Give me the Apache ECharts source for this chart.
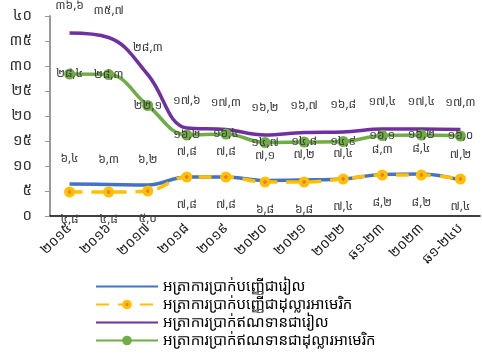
<!DOCTYPE html>
<html><head><meta charset="utf-8">
<script src="https://cdn.jsdelivr.net/npm/echarts@6/dist/echarts.min.js"></script>
<style>html,body{margin:0;padding:0;background:#fff}#c{width:482px;height:359px}</style>
</head><body><div id="c"></div>
<script>
const categories = ['២០១៥','២០១៦','២០១៧','២០១៨','២០១៩','២០២០','២០២១','២០២២','ឆ១-២៣','២០២៣','ឆ១-២៤ប'];
const seriesNames = ['អត្រាការប្រាក់បញ្ញើជារៀល','អត្រាការប្រាក់បញ្ញើជាដុល្លារអាមេរិក','អត្រាការប្រាក់ឥណទានជារៀល','អត្រាការប្រាក់ឥណទានជាដុល្លារអាមេរិក'];
const depositRiel = [6.4, 6.3, 6.2, 7.8, 7.8, 7.1, 7.2, 7.4, 8.3, 8.4, 7.2];
const depositUsd  = [4.8, 4.8, 5.0, 7.8, 7.8, 6.8, 6.8, 7.4, 8.2, 8.2, 7.4];
const loanRiel    = [36.6, 35.7, 28.3, 17.6, 17.3, 16.2, 16.7, 16.8, 17.4, 17.4, 17.3];
const loanUsd     = [28.4, 28.3, 22.1, 16.2, 16.4, 14.7, 14.8, 14.9, 16.1, 16.2, 16.0];
const yTicks = [0, 5, 10, 15, 20, 25, 30, 35, 40];

const KD = ['០','១','២','៣','៤','៥','៦','៧','៨','៩'];
function kh(s){ return String(s).replace(/[0-9]/g, d => KD[+d]).replace('.', ','); }
const FONT = '"Noto Sans Khmer","Khmer OS","Khmer OS System","Noto Sans","DejaVu Sans",sans-serif';
const lblStyle = {fontFamily: FONT, fontSize: 12, color: '#404040'};
function fmt(p){ return kh(p.value.toFixed(1)); }

const chart = echarts.init(document.getElementById('c'), null, {renderer:'canvas'});
chart.setOption({
  animation: false,
  grid: {left: 50, right: 2, top: 16, bottom: 143, containLabel: false},
  legend: {
    orient: 'vertical', left: 90, top: 274, itemWidth: 62, itemHeight: 12, itemGap: 3,
    textStyle: {fontFamily: FONT, fontSize: 15, color: '#000'},
    data: [
      {name: seriesNames[0], itemStyle: {opacity: 0}},
      {name: seriesNames[1]},
      {name: seriesNames[2], itemStyle: {opacity: 0}},
      {name: seriesNames[3]}
    ]
  },
  xAxis: {
    type: 'category', data: categories, boundaryGap: true,
    axisLine: {lineStyle: {color: '#000', width: 1.5}},
    axisTick: {show: false},
    axisLabel: {rotate: 45, fontFamily: FONT, fontSize: 14, color: '#222', margin: 10, interval: 0}
  },
  yAxis: {
    type: 'value', min: yTicks[0], max: yTicks[yTicks.length-1], interval: 5,
    splitLine: {show: false},
    axisLine: {show: true, lineStyle: {color: '#999', width: 2}},
    axisTick: {show: true, length: 5, lineStyle: {color: '#999'}},
    axisLabel: {fontFamily: FONT, fontSize: 15, color: '#333', margin: 18, formatter: v => kh(v)}
  },
  series: [
    {name: seriesNames[0], type: 'line', smooth: 0.4, data: depositRiel, showSymbol: true, symbol: 'circle', symbolSize: 2,
     lineStyle: {color: '#4472C4', width: 3.5}, itemStyle: {color: 'rgba(0,0,0,0)', borderWidth: 0},
     label: {show: true, position: 'top', distance: 18, formatter: fmt, ...lblStyle}, z: 2},
    {name: seriesNames[1], type: 'line', smooth: 0.4, data: depositUsd, symbol: 'circle', symbolSize: 11,
     lineStyle: {color: '#FFC000', width: 3.5, type: [13, 9]},
     itemStyle: {color: {type: 'radial', x: 0.5, y: 0.5, r: 0.5, colorStops: [
       {offset: 0, color: '#ED7D31'}, {offset: 0.28, color: '#ED7D31'}, {offset: 0.36, color: '#FFC000'}, {offset: 1, color: '#FFC000'}]}},
     label: {show: true, position: 'bottom', distance: 16, formatter: fmt, ...lblStyle}, z: 3},
    {name: seriesNames[2], type: 'line', smooth: 0.4, data: loanRiel, showSymbol: true, symbol: 'circle', symbolSize: 2,
     lineStyle: {color: '#7030A0', width: 3.5}, itemStyle: {color: 'rgba(0,0,0,0)', borderWidth: 0},
     label: {show: true, position: 'top', distance: 20, formatter: fmt, ...lblStyle}, z: 2},
    {name: seriesNames[3], type: 'line', smooth: 0.4, data: loanUsd, symbol: 'circle', symbolSize: 11,
     lineStyle: {color: '#70AD47', width: 3.5}, itemStyle: {color: '#70AD47'},
     label: {show: true, position: 'inside', formatter: fmt, ...lblStyle}, z: 3}
  ]
});
</script>
</body></html>
